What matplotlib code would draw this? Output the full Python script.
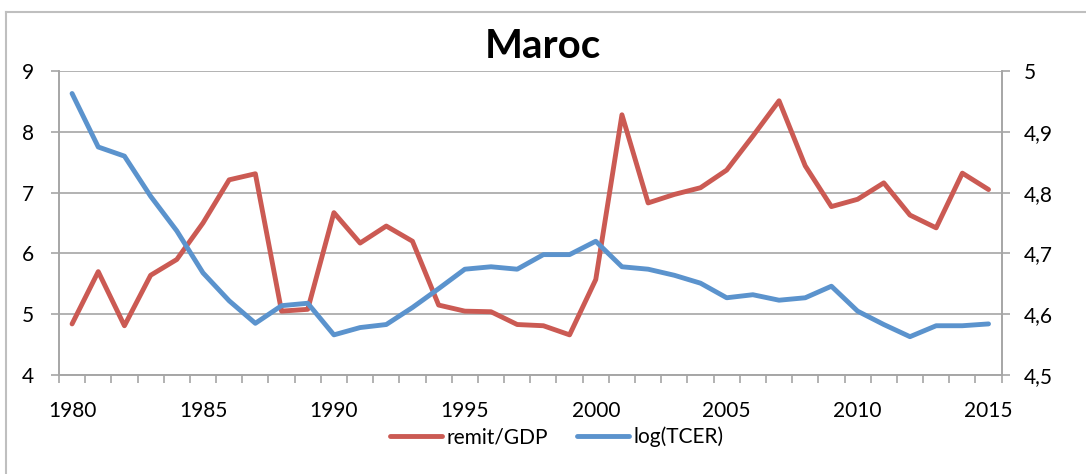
import numpy as np
import matplotlib.pyplot as plt
from matplotlib.lines import Line2D

plt.rcParams["font.family"] = ["Lato", "DejaVu Sans"]

# ====================== 数据 ======================
years = list(range(1980, 2016))
remit_gdp = [4.84, 5.70, 4.81, 5.64, 5.90, 6.50, 7.21, 7.31, 5.05, 5.08,
             6.67, 6.17, 6.45, 6.20, 5.15, 5.05, 5.04, 4.83, 4.81, 4.66,
             5.57, 8.28, 6.83, 6.97, 7.08, 7.37, 7.93, 8.51, 7.44, 6.77,
             6.89, 7.16, 6.63, 6.42, 7.32, 7.05]
log_tcer = [4.963, 4.875, 4.860, 4.794, 4.737, 4.668, 4.622, 4.585, 4.614, 4.618,
            4.566, 4.578, 4.583, 4.611, 4.642, 4.674, 4.678, 4.674, 4.698, 4.698,
            4.720, 4.678, 4.674, 4.664, 4.651, 4.627, 4.632, 4.623, 4.627, 4.646,
            4.605, 4.583, 4.563, 4.581, 4.581, 4.584]
left_ticks = [4, 5, 6, 7, 8, 9]
right_ticks = [4.5, 4.6, 4.7, 4.8, 4.9, 5.0]
right_labels = ["4,5", "4,6", "4,7", "4,8", "4,9", "5"]
year_labels = [1980, 1985, 1990, 1995, 2000, 2005, 2010, 2015]

RED = "#CB5A53"
BLUE = "#5B93CD"
GRID = "#A6A6A6"

fig = plt.figure(figsize=(10.86, 4.74), dpi=100)
# 图表外框（只露出左边和上边）
fig.lines.append(Line2D([6 / 1086, 6 / 1086], [0, 1 - 12 / 474], transform=fig.transFigure,
                        color="#BFBFBF", lw=1.5))
fig.lines.append(Line2D([6 / 1086, 1], [1 - 12 / 474, 1 - 12 / 474], transform=fig.transFigure,
                        color="#BFBFBF", lw=1.5))

ax = fig.add_axes([0.0543, 0.2089, 0.868, 0.6413])
ax2 = ax.twinx()

ax.plot(years, remit_gdp, color=RED, lw=3.5, solid_capstyle="round", label="remit/GDP", zorder=3)
ax2.plot(years, log_tcer, color=BLUE, lw=3.5, solid_capstyle="round", label="log(TCER)", zorder=3)

ax.set_xlim(1979.5, 2015.5)
ax.set_ylim(4, 9)
ax2.set_ylim(4.5, 5.0)

ax.set_yticks(left_ticks)
ax.set_yticklabels([str(t) for t in left_ticks], fontsize=15)
ax2.set_yticks(right_ticks)
ax2.set_yticklabels(right_labels, fontsize=15)

ax.set_xticks(year_labels)
ax.set_xticklabels([str(y) for y in year_labels], fontsize=15)
ax.tick_params(axis="x", which="major", length=0, pad=19)
ax.set_xticks(np.arange(1979.5, 2016, 1), minor=True)
ax.tick_params(axis="x", which="minor", length=6, color=GRID, direction="out", width=1.2)

ax.tick_params(axis="y", length=6, color=GRID, width=1.2, pad=12)
ax2.tick_params(axis="y", length=6, color=GRID, width=1.2, pad=10)

ax.grid(axis="y", color=GRID, lw=1.2)
ax.set_axisbelow(True)
for a in (ax, ax2):
    a.spines["top"].set_visible(False)
    for s in ("left", "right", "bottom"):
        a.spines[s].set_color(GRID)
        a.spines[s].set_linewidth(1.2)

fig.text(0.5, 1 - 47 / 474, "Maroc", ha="center", va="center", fontsize=29, fontweight="bold")

h1, l1 = ax.get_legend_handles_labels()
h2, l2 = ax2.get_legend_handles_labels()
fig.legend(h1 + h2, l1 + l2, loc="center", bbox_to_anchor=(0.5125, 0.078), ncol=2,
           frameon=False, fontsize=15, handlelength=2.5, handletextpad=0.2, columnspacing=1.4)

plt.savefig("out.png", dpi=100)
plt.close()
